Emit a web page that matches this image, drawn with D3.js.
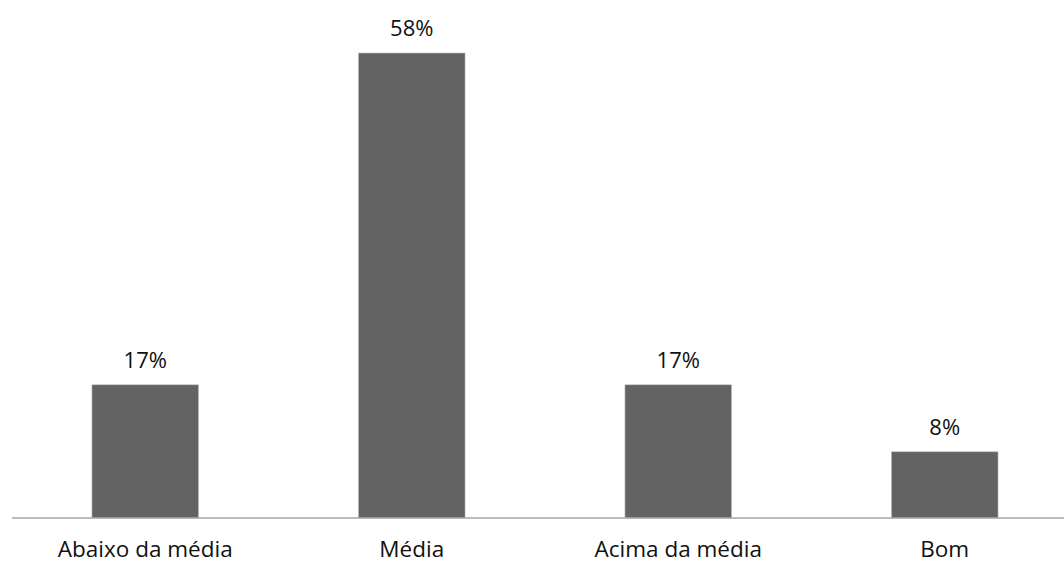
<!DOCTYPE html>
<html><head><meta charset="utf-8">
<script src="https://cdn.jsdelivr.net/npm/d3@7"></script>
<style>html,body{margin:0;padding:0;background:#fff;overflow:hidden}</style>
</head><body>
<svg id="c" width="1064" height="563"></svg>
<script>
const categories = ["Abaixo da média", "Média", "Acima da média", "Bom"];
const values = [16.7, 58.3, 16.7, 8.3];
const valueLabels = ["17%", "58%", "17%", "8%"];

const svg = d3.select("#c");
const font = "'Open Sans', sans-serif";
const x = d3.scaleBand().domain(categories).range([12, 1078]).paddingInner(0.6).paddingOuter(0.3);
const y = d3.scaleLinear().domain([0, 58.3]).range([518, 53]);

svg.selectAll("rect.bar").data(values).join("rect")
  .attr("class", "bar")
  .attr("x", (d, i) => x(categories[i]))
  .attr("width", x.bandwidth())
  .attr("y", d => y(d))
  .attr("height", d => y(0) - y(d))
  .attr("fill", "#636363")
  .attr("stroke", "#bfbfbf").attr("stroke-width", 0.6);

svg.selectAll("text.val").data(values).join("text")
  .attr("class", "val")
  .attr("x", (d, i) => x(categories[i]) + x.bandwidth() / 2)
  .attr("y", d => y(d) - 17)
  .attr("text-anchor", "middle")
  .attr("font-family", font).attr("font-size", 22).attr("fill", "#111")
  .text((d, i) => valueLabels[i]);

const axis = d3.axisBottom(x).tickSize(0).tickPadding(0);
const g = svg.append("g").attr("transform", "translate(0,518)").call(axis);
g.select(".domain").attr("stroke", "#a6a6a6").attr("stroke-width", 1.5).attr("d", "M12,0H1078");
g.selectAll(".tick text").attr("font-family", font).attr("font-size", 22.5).attr("fill", "#111").attr("dy", 0).attr("y", 39);
</script>
</body></html>
